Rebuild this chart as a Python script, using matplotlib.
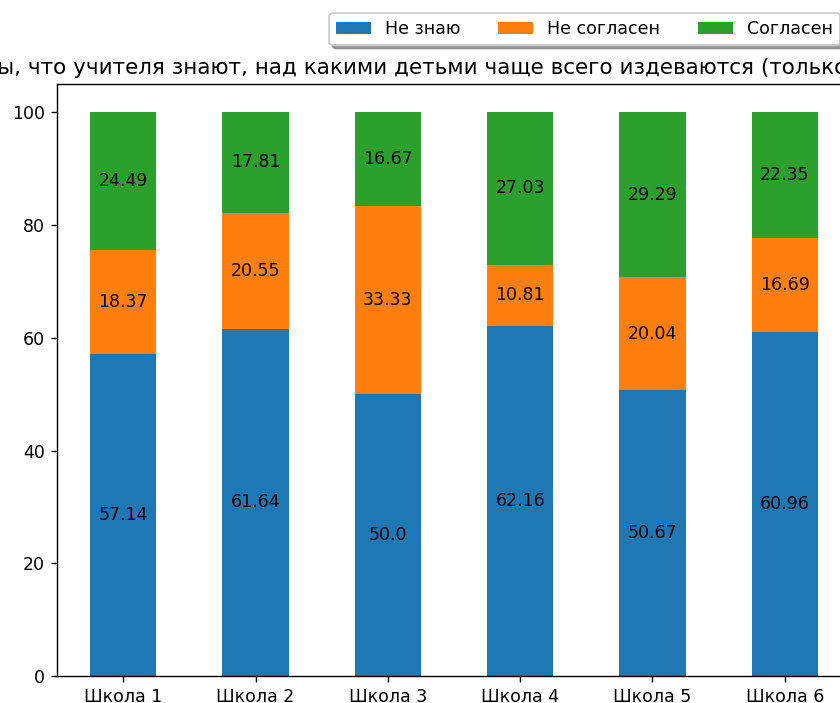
import matplotlib
matplotlib.use("Agg")
import matplotlib.pyplot as plt
import numpy as np

# данные по школам (проценты)
schools = ['Школа 1', 'Школа 2', 'Школа 3', 'Школа 4', 'Школа 5', 'Школа 6']
ne_znayu = [57.14, 61.64, 50.0, 62.16, 50.67, 60.96]
ne_soglasen = [18.37, 20.55, 33.33, 10.81, 20.04, 16.69]
soglasen = [24.49, 17.81, 16.67, 27.03, 29.29, 22.35]
series_names = ['Не знаю', 'Не согласен', 'Согласен']

title = ('Согласны ли вы, что учителя знают, над какими детьми чаще всего '
         'издеваются (только один вариант ответа)')

fig = plt.figure(figsize=(6.72, 5.624), dpi=125)
ax = fig.add_axes([0.068, 0.0384, 0.945, 0.842])

x = np.arange(len(schools))
bottom = np.zeros(len(schools))
for name, vals in zip(series_names, [ne_znayu, ne_soglasen, soglasen]):
    bars = ax.bar(x, vals, 0.5, bottom=bottom, label=name)
    ax.bar_label(bars, labels=[str(v) for v in vals], label_type='center')
    bottom += np.array(vals)

ax.set_xticks(x)
ax.set_xticklabels(schools)
ax.set_xlim(-0.5, len(schools) - 0.5)
ax.set_ylim(0, 105)
ax.set_title(title, fontsize=12.4, x=0.5176)
ax.legend(loc='lower right', bbox_to_anchor=(0.986, 1.066), ncol=3, shadow=True,
          borderaxespad=0, columnspacing=2.2)

plt.savefig('out.png', dpi=125)
